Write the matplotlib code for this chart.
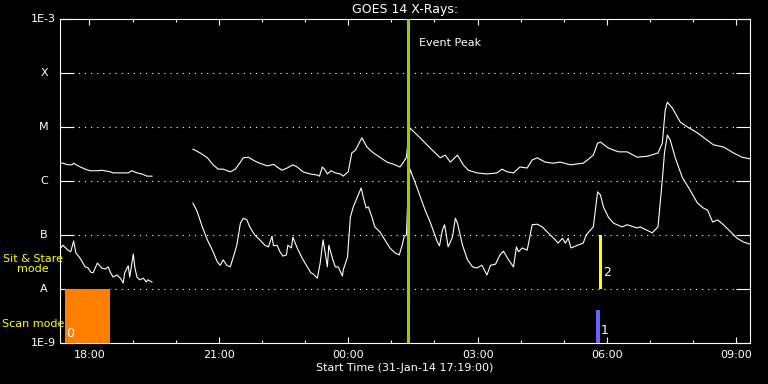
import matplotlib
matplotlib.use("Agg")
import matplotlib.pyplot as plt
import numpy as np

# minutes after start (31-Jan-14 17:19:00) and log10 flux (W/m^2)
start_minute_of_day = 17 * 60 + 19
t_end = 960

long_t1 = [1, 4, 11, 17, 19, 25, 35, 42, 53, 58, 70, 74, 86, 95, 100, 107, 114, 121, 128]
long_lg1 = [-5.67, -5.67, -5.70, -5.70, -5.67, -5.72, -5.78, -5.81, -5.81, -5.80,
            -5.83, -5.85, -5.85, -5.85, -5.81, -5.85, -5.87, -5.91, -5.91]

short_t1 = [1, 4, 11, 15, 19, 22, 28, 35, 39, 43, 46, 52, 58, 63, 67, 70, 74, 79, 84, 88,
            90, 95, 97, 102, 104, 107, 111, 116, 120, 122, 128]
short_lg1 = [-7.24, -7.19, -7.28, -7.31, -7.11, -7.33, -7.43, -7.59, -7.61, -7.69,
             -7.70, -7.52, -7.61, -7.63, -7.59, -7.69, -7.78, -7.74, -7.80, -7.89,
             -7.70, -7.57, -7.78, -7.35, -7.59, -7.78, -7.83, -7.80, -7.87, -7.83, -7.87]

long_t2 = [185, 195, 205, 213, 220, 227, 237, 244, 251, 255,
           262, 271, 278, 288, 295, 297, 302, 309, 316, 324,
           330, 338, 348, 358, 361, 365, 369, 372, 377, 383,
           390, 394, 401, 406, 411, 420, 427, 436, 445, 455,
           464, 473, 477, 482, 484, 487, 501, 515, 529, 536,
           543, 553, 561, 568, 580, 594, 608, 615, 622, 631,
           640, 650, 657, 664, 675, 686, 696, 710, 728, 734,
           742, 748, 752, 763, 777, 789, 803, 818, 832, 838,
           842, 845, 852, 863, 873, 887, 898, 909, 923, 937,
           949, 960]
long_lg2 = [-5.41, -5.48, -5.57, -5.70, -5.78, -5.78, -5.83, -5.78, -5.65, -5.57,
            -5.56, -5.63, -5.67, -5.72, -5.70, -5.69, -5.74, -5.80, -5.76, -5.70,
            -5.74, -5.83, -5.87, -5.89, -5.91, -5.74, -5.80, -5.87, -5.81, -5.85,
            -5.87, -5.91, -5.83, -5.48, -5.43, -5.20, -5.37, -5.48, -5.56, -5.65,
            -5.69, -5.74, -5.67, -5.56, -5.30, -5.02, -5.20, -5.39, -5.57, -5.52,
            -5.65, -5.52, -5.70, -5.80, -5.85, -5.87, -5.85, -5.78, -5.83, -5.85,
            -5.74, -5.76, -5.61, -5.57, -5.65, -5.67, -5.65, -5.70, -5.67, -5.61,
            -5.52, -5.30, -5.28, -5.39, -5.46, -5.46, -5.56, -5.54, -5.48, -5.30,
            -4.69, -4.54, -4.65, -4.91, -5.00, -5.11, -5.22, -5.33, -5.37, -5.48,
            -5.56, -5.59]

short_t2 = [185, 191, 198, 205, 212, 219, 223, 227, 232, 237,
            241, 246, 251, 255, 260, 264, 271, 278, 285, 290,
            295, 297, 302, 306, 310, 315, 317, 322, 324, 330,
            337, 344, 349, 352, 358, 362, 366, 369, 372, 374,
            379, 383, 387, 393, 394, 400, 404, 408, 415, 419,
            422, 426, 429, 434, 438, 445, 452, 459, 466, 472,
            476, 479, 482, 484, 487, 498, 508, 515, 525, 528,
            532, 535, 537, 540, 546, 550, 553, 560, 567, 574,
            580, 587, 594, 599, 606, 612, 617, 624, 631, 635,
            638, 643, 650, 657, 664, 671, 679, 689, 693, 699,
            703, 707, 711, 720, 728, 732, 738, 742, 748, 752,
            756, 763, 770, 782, 789, 803, 807, 824, 832, 838,
            841, 845, 849, 856, 866, 874, 887, 895, 901, 908,
            915, 923, 933, 942, 951, 960]
short_lg2 = [-6.41, -6.57, -6.85, -7.09, -7.28, -7.50, -7.56, -7.46, -7.56, -7.59,
             -7.41, -7.19, -6.78, -6.69, -6.72, -6.85, -7.00, -7.09, -7.19, -7.22,
             -7.02, -7.20, -7.19, -7.31, -7.39, -7.37, -7.19, -7.24, -7.04, -7.24,
             -7.43, -7.59, -7.70, -7.72, -7.80, -7.52, -7.09, -7.33, -7.59, -7.19,
             -7.43, -7.59, -7.59, -7.76, -7.65, -7.41, -6.67, -6.48, -6.26, -6.13,
             -6.30, -6.50, -6.48, -6.67, -6.85, -6.94, -7.09, -7.24, -7.33, -7.37,
             -7.19, -7.02, -7.00, -6.30, -5.78, -6.17, -6.54, -6.76, -7.13, -7.20,
             -6.91, -6.81, -6.96, -7.22, -7.04, -6.69, -6.78, -7.19, -7.46, -7.59,
             -7.61, -7.56, -7.74, -7.56, -7.54, -7.37, -7.30, -7.46, -7.59, -7.22,
             -7.31, -7.24, -7.28, -6.81, -6.80, -6.85, -6.96, -7.09, -7.15, -7.06,
             -7.15, -7.06, -7.24, -7.19, -7.15, -7.00, -6.91, -6.85, -6.20, -6.26,
             -6.48, -6.67, -6.78, -6.85, -6.81, -6.87, -6.85, -6.96, -6.85, -5.98,
             -5.48, -5.15, -5.24, -5.57, -5.94, -6.11, -6.41, -6.50, -6.54, -6.76,
             -6.72, -6.81, -6.94, -7.06, -7.13, -7.17]

event_peak = 484

# observing mode markers: label, start, end, log bottom, log top, colour
mode_labels = ["0", "1", "2"]
mode_start = [7, 746, 750]
mode_end = [70, 751.5, 754]
mode_bottom = [-9.0, -9.0, -8.0]
mode_top = [-8.0, -8.39, -7.0]
mode_colors = ["#ff8000", "#6464ff", "#ffff00"]
mode_text_t = [8, 752, 756]
mode_text_lg = [-8.82, -8.76, -7.70]

ylevels = [-9, -8, -7, -6, -5, -4, -3]
ylabels = ["1E-9", "A", "B", "C", "M", "X", "1E-3"]

W, H = 768, 384
fig = plt.figure(figsize=(W / 100, H / 100), dpi=100, facecolor="black")
ax = fig.add_axes([60 / W, (H - 343) / H, 690 / W, 324 / H], facecolor="black")

fs = 8
for t, lg in [(long_t1, long_lg1), (long_t2, long_lg2), (short_t1, short_lg1), (short_t2, short_lg2)]:
    ax.plot(t, 10.0 ** np.array(lg), color="white", lw=0.8)

for s, e, b, tp, c in zip(mode_start, mode_end, mode_bottom, mode_top, mode_colors):
    ax.bar(s, 10.0 ** tp - 10.0 ** b, bottom=10.0 ** b, width=e - s, align="edge",
           color=c, linewidth=0, zorder=3)
for lab, tt, lg in zip(mode_labels, mode_text_t, mode_text_lg):
    ax.text(tt, 10.0 ** lg, lab, color="white", fontsize=9, ha="left", va="center", zorder=4)

ax.axvline(event_peak, color="#9acd00", lw=2.2, zorder=4)
ax.annotate("Event Peak", xy=(event_peak, 1), xycoords=("data", "axes fraction"),
            xytext=(11, -24), textcoords="offset pixels", color="white", fontsize=fs,
            ha="left", va="center")

ax.set_yscale("log")
ax.set_ylim(1e-9, 1e-3)
ax.set_xlim(0, t_end)

ax.set_yticks([10.0 ** v for v in ylevels])
ax.yaxis.set_minor_locator(matplotlib.ticker.NullLocator())
ax.set_yticklabels([])
for v, lab in zip(ylevels, ylabels):
    if len(lab) == 1:
        ax.text(-16 / 690, 10.0 ** v, lab, transform=ax.get_yaxis_transform(),
                color="white", fontsize=fs, ha="center", va="center")
    else:
        ax.text(-4 / 690, 10.0 ** v, lab, transform=ax.get_yaxis_transform(),
                color="white", fontsize=fs, ha="right", va="center")

for v in ylevels[1:-1]:
    ax.axhline(10.0 ** v, color="white", lw=0.8, linestyle=(0, (1, 4.5)), zorder=1)

# hourly ticks, labelled every 3 hours
hour_ticks = [m for m in range(0, t_end + 1) if (start_minute_of_day + m) % 60 == 0]
major = [m for m in hour_ticks if (start_minute_of_day + m) % 180 == 0]
minor = [m for m in hour_ticks if m not in major]
ax.set_xticks(major)
ax.set_xticklabels(["%02d:00" % (((start_minute_of_day + m) // 60) % 24) for m in major])
ax.set_xticks(minor, minor=True)

ax.tick_params(axis="x", which="major", direction="in", length=4.3, width=0.8,
               top=True, colors="white", labelsize=fs, pad=5)
ax.tick_params(axis="x", which="minor", direction="in", length=2.2, width=0.8,
               top=True, colors="white")
ax.tick_params(axis="y", which="major", direction="in", length=10, width=0.8,
               right=True, colors="white")
for sp in ax.spines.values():
    sp.set_color("white")
    sp.set_linewidth(0.8)

fig.text(405 / W, 1 - 9 / H, "GOES 14 X-Rays:", color="white", fontsize=9,
         ha="center", va="center")
fig.text(405 / W, 1 - 368 / H, "Start Time (31-Jan-14 17:19:00)", color="white",
         fontsize=fs, ha="center", va="center")
fig.text(33 / W, 1 - 264 / H, "Sit & Stare\nmode", color="#ffff00", fontsize=fs,
         ha="center", va="center", linespacing=1.05)
fig.text(2 / W, 1 - 324 / H, "Scan mode", color="#ffff00", fontsize=fs,
         ha="left", va="center")

fig.savefig("out.png", dpi=100, facecolor="black")
